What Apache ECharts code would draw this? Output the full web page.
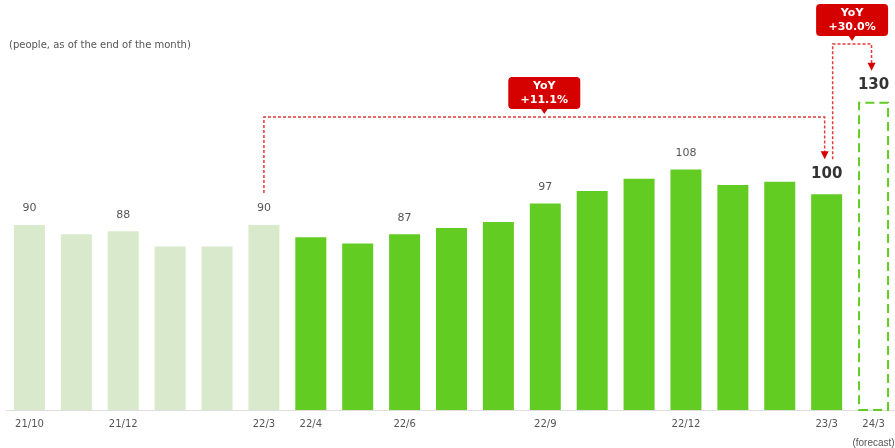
<!DOCTYPE html>
<html>
<head>
<meta charset="utf-8">
<script src="https://cdn.jsdelivr.net/npm/echarts@6/dist/echarts.min.js"></script>
<style>
html,body{margin:0;padding:0;background:#fff;}
#main{width:895px;height:448px;}
</style>
</head>
<body>
<div id="main"></div>
<script>
var categories = ['21/10','21/11','21/12','22/1','22/2','22/3','22/4','22/5','22/6','22/7','22/8','22/9','22/10','22/11','22/12','23/1','23/2','23/3','24/3'];
var values = [90,87,88,83,83,90,86,84,87,89,91,97,101,105,108,103,104,100,130];
var tickLabels = ['21/10','21/12','22/3','22/4','22/6','22/9','22/12','23/3','24/3'];
var valueLabels = ['21/10','21/12','22/3','22/6','22/9','22/12'];
var boldLabels = ['23/3','24/3'];
var pastMonths = ['21/10','21/11','21/12','22/1','22/2','22/3'];
var forecastMonths = ['24/3'];
var yoy = [
  {from:'22/3', to:'23/3', text:'YoY\n+11.1%'},
  {from:'23/3', to:'24/3', text:'YoY\n+30.0%'}
];

var FONT = '"DejaVu Sans", Verdana, sans-serif';
var GREEN = '#62cc22', LIGHT = '#d9eacc', RED = '#d50000', DASH = '#e23a3a';

var chart = echarts.init(document.getElementById('main'));

var barData = categories.map(function(c, i){
  var item = {value: values[i]};
  if (forecastMonths.indexOf(c) >= 0) {
    item.itemStyle = {color:'#fff', borderColor:GREEN, borderWidth:2, borderType:[9,5]};
  } else if (pastMonths.indexOf(c) >= 0) {
    item.itemStyle = {color:LIGHT};
  } else {
    item.itemStyle = {color:GREEN};
  }
  if (boldLabels.indexOf(c) >= 0) {
    item.label = {show:true, position:'top', distance: forecastMonths.indexOf(c) >= 0 ? 9 : 13,
      fontSize:15, fontWeight:'bold', color:'#333', fontFamily:FONT};
  } else if (valueLabels.indexOf(c) >= 0) {
    item.label = {show:true, position:'top', distance:11, fontSize:11, color:'#555', fontFamily:FONT};
  }
  return item;
});

var option = {
  animation: false,
  title: {
    text: '(people, as of the end of the month)',
    left: 4, top: 35,
    textStyle: {fontSize:10, fontWeight:'normal', color:'#555', fontFamily:FONT}
  },
  grid: {left:6, width:891, top:40, bottom:38, containLabel:false, outerBoundsMode:'none'},
  xAxis: {
    type:'category',
    data: categories,
    axisTick: {show:false},
    axisLine: {lineStyle:{color:'#dedede', width:1}},
    axisLabel: {
      interval:0, margin:5, fontSize:10, color:'#555', fontFamily:FONT, lineHeight:19,
      formatter: function(v){
        if (tickLabels.indexOf(v) < 0) return '';
        return forecastMonths.indexOf(v) >= 0 ? v + '\n{f|(forecast)}' : v;
      },
      rich: {
        f: {fontSize:10, color:'#555', fontFamily:'"Liberation Sans", Arial, sans-serif', lineHeight:19}
      }
    }
  },
  yAxis: {type:'value', min:30, max:150, show:false, splitLine:{show:false}},
  series: [{
    type:'bar',
    barWidth:31,
    data: barData
  }]
};
chart.setOption(option);

function px(c, v){ return chart.convertToPixel({xAxisIndex:0, yAxisIndex:0}, [c, v]); }

var lineStyle = {stroke:DASH, lineWidth:1.5, lineDash:[3,2], fill:null};
function arrow(x, y){
  return {type:'polygon', shape:{points:[[x-4,y-8],[x+4,y-8],[x,y]]}, style:{fill:RED}, z:10};
}
function callout(cx, level, text){
  var w = 72, h = 32, bottom = level - 8;
  return [
    {type:'rect', shape:{x:cx-w/2, y:bottom-h, width:w, height:h, r:4}, style:{fill:RED}, z:10},
    {type:'polygon', shape:{points:[[cx-4,bottom-1],[cx+4,bottom-1],[cx,bottom+5]]}, style:{fill:RED}, z:10},
    {type:'text', x:cx, y:bottom-h/2, style:{text:text, fill:'#fff', fontSize:11, fontWeight:'bold',
      fontFamily:FONT, align:'center', verticalAlign:'middle', lineHeight:14}, z:11}
  ];
}

var graphics = [];
// bracket 1: 22/3 -> 23/3
var s1 = px(yoy[0].from, values[categories.indexOf(yoy[0].from)]);
var e1 = px(yoy[0].to, values[categories.indexOf(yoy[0].to)]);
var lvl1 = px(yoy[0].from, 125)[1];
var x1s = s1[0], y1s = s1[1] - 32;
var x1e = e1[0] - 2, y1e = e1[1] - 35;
graphics.push({type:'polyline', shape:{points:[[x1s,y1s],[x1s,lvl1],[x1e,lvl1],[x1e,y1e-6]]}, style:lineStyle, z:9});
graphics.push(arrow(x1e, y1e));
graphics = graphics.concat(callout((x1s + x1e)/2, lvl1, yoy[0].text));

// bracket 2: 23/3 -> 24/3
var e2 = px(yoy[1].to, values[categories.indexOf(yoy[1].to)]);
var lvl2 = px(yoy[1].to, 148.7)[1];
var x2s = e1[0] + 6, y2s = y1e;
var x2e = e2[0] - 2, y2e = e2[1] - 31;
graphics.push({type:'polyline', shape:{points:[[x2s,y2s],[x2s,lvl2],[x2e,lvl2],[x2e,y2e-6]]}, style:lineStyle, z:9});
graphics.push(arrow(x2e, y2e));
graphics = graphics.concat(callout((x2s + x2e)/2, lvl2, yoy[1].text));

chart.setOption({graphic: graphics});
</script>
</body>
</html>
